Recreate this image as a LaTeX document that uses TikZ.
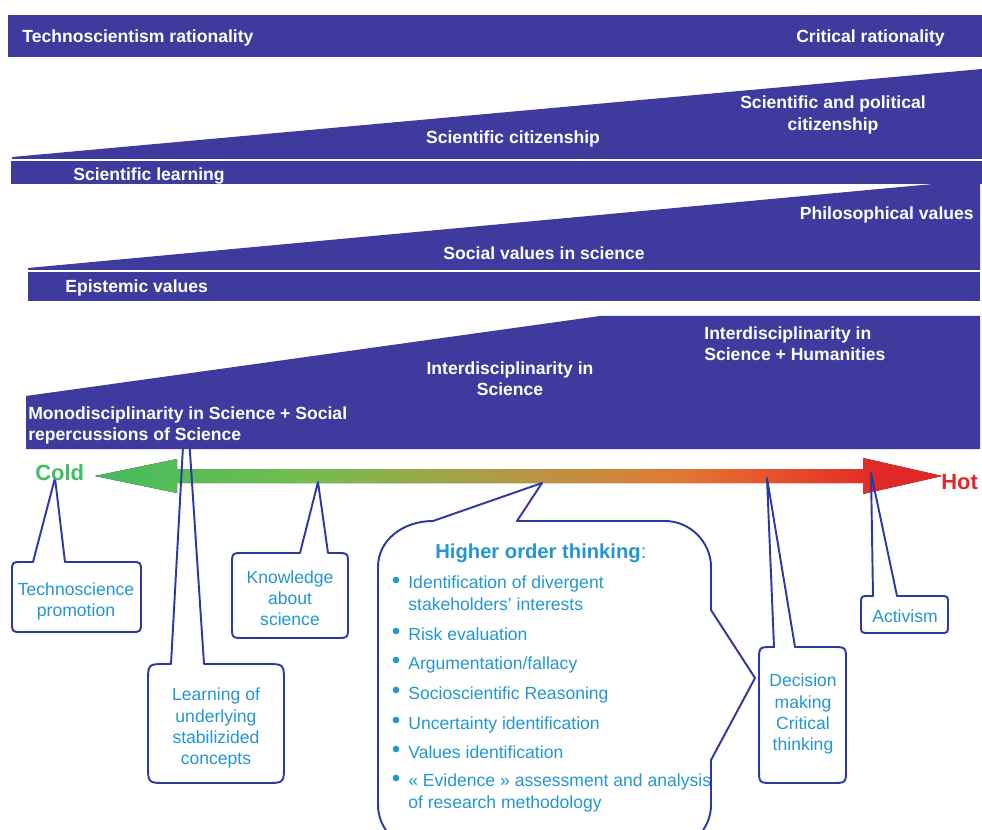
\documentclass[tikz,border=0pt]{standalone}
\usepackage{fontspec}
\setmainfont{Liberation Sans}
\usetikzlibrary{positioning}

\definecolor{bandblue}{RGB}{62,58,158}
\definecolor{lineblue}{RGB}{46,56,162}
\definecolor{textblue}{RGB}{34,150,210}
\definecolor{coldgreen}{RGB}{66,188,94}
\definecolor{warm1}{RGB}{115,188,78}
\definecolor{warm2}{RGB}{168,160,72}
\definecolor{warm3}{RGB}{224,122,54}
\definecolor{warm4}{RGB}{232,88,44}
\definecolor{hotred}{RGB}{224,40,40}

\pgfdeclarehorizontalshading{coldhot}{100bp}{color(0bp)=(coldgreen); color(25bp)=(coldgreen); color(37bp)=(warm1); color(47.5bp)=(warm2); color(59bp)=(warm3); color(64bp)=(warm4); color(71.5bp)=(hotred); color(100bp)=(hotred)}

\begin{document}
\begin{tikzpicture}[x=0.02cm, y=-0.02cm,
  band/.style={fill=bandblue},
  bandlabel/.style={text=white, font=\fontsize{10}{12}\selectfont\bfseries, inner sep=0pt},
  bubble/.style={draw=lineblue, line width=1.1pt, line join=round},
  bubblelabel/.style={text=textblue, font=\fontsize{10}{12}\selectfont, align=center, inner sep=0pt},
  item/.style={text=textblue, font=\fontsize{10}{12}\selectfont, align=left, inner sep=0pt, anchor=base west}]
  \useasboundingbox (0,0) rectangle (982,830);
  \clip (0,0) rectangle (982,830);

  % cold -> hot axis
  \fill[shading=coldhot] (95,476) -- (177,459) -- (177,469) -- (863,469) -- (863,458) -- (942,476)
    -- (863,494) -- (863,483) -- (177,483) -- (177,493) -- cycle;
  \coordinate (tp1) at (55,478);
  \coordinate (tp2) at (186,392);
  \coordinate (tp3) at (318,482);
  \coordinate (tp4) at (542,483);
  \coordinate (tp5) at (767,478);
  \coordinate (tp6) at (871,473);

  % callouts
  \draw[bubble] (33,562) -- (tp1) -- (65,562) -- (131,562) .. controls (141,562) .. (141,572) -- (141,622)
    .. controls (141,632) .. (131,632) -- (22,632) .. controls (12,632) .. (12,622) -- (12,572)
    .. controls (12,562) .. (22,562) -- cycle;
  \draw[bubble] (171,664) -- (tp2) -- (204,664) -- (266,664) .. controls (284,664) .. (284,682) -- (284,765)
    .. controls (284,783) .. (266,783) -- (166,783) .. controls (148,783) .. (148,765) -- (148,682)
    .. controls (148,664) .. (166,664) -- cycle;
  \draw[bubble] (300,553) -- (tp3) -- (328,553) -- (336,553) .. controls (348,553) .. (348,565) -- (348,626)
    .. controls (348,638) .. (336,638) -- (244,638) .. controls (232,638) .. (232,626) -- (232,565)
    .. controls (232,553) .. (244,553) -- cycle;
  \draw[bubble] (433,521) -- (tp4) -- (517,521) -- (665,521) .. controls (690,521) and (711,542) .. (711,567) -- (711,610)
    -- (755,678) -- (711,760) -- (711,805) .. controls (711,830) and (690,850) .. (665,850) -- (424,850)
    .. controls (399,850) and (378,830) .. (378,805) -- (378,567) .. controls (378,540) and (403,521) .. (433,521) -- cycle;
  \draw[bubble] (774,647) -- (tp5) -- (795,647) -- (832,647) .. controls (846,647) .. (846,661) -- (846,769)
    .. controls (846,783) .. (832,783) -- (773,783) .. controls (759,783) .. (759,769) -- (759,661)
    .. controls (759,647) .. (773,647) -- cycle;
  \draw[bubble] (873,596) -- (tp6) -- (897,596) -- (940,596) .. controls (948,596) .. (948,604) -- (948,625)
    .. controls (948,633) .. (940,633) -- (869,633) .. controls (861,633) .. (861,625) -- (861,604)
    .. controls (861,596) .. (869,596) -- cycle;

  % bands
  \fill[band] (8,15) rectangle (982,57);
  \fill[band] (12,157) -- (982,69) -- (982,159) -- (12,159) -- cycle;
  \fill[band] (11,161) rectangle (982,184);
  \fill[band] (28,268) -- (933,184) -- (980,184) -- (980,270) -- (28,270) -- cycle;
  \fill[band] (28,272) rectangle (980,301);
  \fill[band] (26,396) -- (600,316) -- (980,316) -- (980,449) -- (26,449) -- cycle;

  \node[bandlabel, anchor=west] (techno) at (22,38) {Technoscientism rationality};
  \node[bandlabel, anchor=east] (critical) at (945,38) {Critical rationality};
  \node[bandlabel] (scicit) at (513,139) {Scientific citizenship};
  \node[bandlabel, align=center] (polcit) at (833,115) {Scientific and political\\citizenship};
  \node[bandlabel, anchor=west] (scilearn) at (73,176) {Scientific learning};
  \node[bandlabel, anchor=east] (philo) at (974,215) {Philosophical values};
  \node[bandlabel] (social) at (544,253) {Social values in science};
  \node[bandlabel, anchor=west] (epist) at (65,288) {Epistemic values};
  \node[bandlabel, align=left, anchor=west] (mono) at (28,425) {Monodisciplinarity in Science + Social\\repercussions of Science};
  \node[bandlabel, align=center] (inter) at (510,379) {Interdisciplinarity in\\Science};
  \node[bandlabel, align=left, anchor=west] (interhum) at (704,344) {Interdisciplinarity in\\Science + Humanities};

  \node[text=coldgreen, font=\fontsize{12.5}{14}\selectfont\bfseries, inner sep=0pt, anchor=west] (cold) at (35,473) {Cold};
  \node[text=hotred, font=\fontsize{12.5}{14}\selectfont\bfseries, inner sep=0pt, anchor=west] (hot) at (941,482) {Hot};

  \node[bubblelabel] (promo) at (76,601) {Technoscience\\promotion};
  \node[bubblelabel] (knowl) at (290,598) {Knowledge\\about\\science};
  \node[bubblelabel] (learn) at (216,728) {Learning of\\underlying\\stabilizided\\concepts};
  \node[bubblelabel] (decide) at (803,714) {Decision\\making\\Critical\\thinking};
  \node[bubblelabel] (activ) at (905,616) {Activism};

  % higher order thinking
  \node[text=textblue, font=\fontsize{11.5}{14}\selectfont, inner sep=0pt, anchor=west] (higher) at (435,553) {\textbf{Higher order thinking}:};
  \foreach \yy in {580,631,660,690,720,749,778}
    \fill[textblue] (396,\yy) circle[radius=1.9pt];
  \node[item] (ident) at (408,610) {Identification of divergent\\stakeholders’ interests};
  \node[item] (risk) at (408,640) {Risk evaluation};
  \node[item] (argu) at (408,669) {Argumentation/fallacy};
  \node[item] (socio) at (408,699) {Socioscientific Reasoning};
  \node[item] (uncert) at (408,729) {Uncertainty identification};
  \node[item] (values) at (408,758) {Values identification};
  \node[item] (evid) at (408,808) {« Evidence » assessment and analysis\\of research methodology};
\end{tikzpicture}
\end{document}
